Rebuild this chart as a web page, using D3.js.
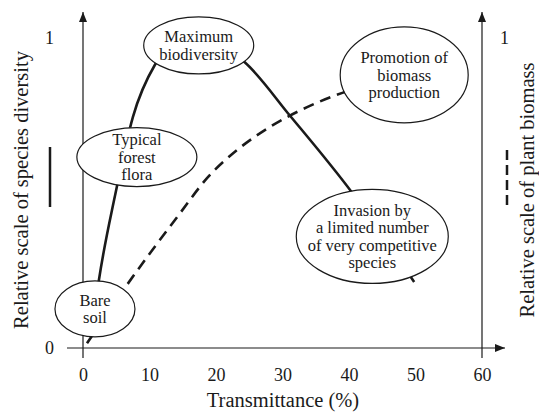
<!DOCTYPE html>
<html>
<head>
<meta charset="utf-8">
<script src="https://cdn.jsdelivr.net/npm/d3@7"></script>
<style>
  body { margin: 0; background: #fff; }
  svg { display: block; }
  text { font-family: "Liberation Serif", "Times New Roman", serif; fill: #1a1a1a; }
</style>
</head>
<body>
<div class="chart"></div>
<script>
// data
var transmittance = [1.6, 2.4, 4.8, 7.5, 10.8, 15, 20, 24.4, 31.1, 40.5, 49.8];
var diversity     = [0.1, 0.22, 0.49, 0.745, 0.913, 0.99, 0.985, 0.92, 0.75, 0.5, 0.213];
var transmittanceB = [0.6, 6.3, 14.6, 18.65, 23.2, 28.1, 33.7, 39, 48];
var biomass        = [0.015, 0.194, 0.435, 0.548, 0.639, 0.713, 0.777, 0.823, 0.87];
var xTicks = [0, 10, 20, 30, 40, 50, 60];
var yTicks = [0, 1];
var labels = [
  ["Maximum", "biodiversity"],
  ["Typical", "forest", "flora"],
  ["Bare", "soil"],
  ["Promotion of", "biomass", "production"],
  ["Invasion by", "a limited number", "of very competitive", "species"]
];
var labelX = [17.4, 8.1, 1.8, 48.3, 43.5];
var labelY = [0.976, 0.616, 0.126, 0.881, 0.36];

var width = 539, height = 413;
var ink = "#1a1a1a";
var radii = [[55, 28.5], [60, 29.5], [40, 28], [64, 48], [76, 47]];

var svg = d3.select("div.chart").append("svg")
  .attr("width", width).attr("height", height);

svg.append("defs").append("marker")
  .attr("id", "arrow")
  .attr("viewBox", "0 -4 10 8")
  .attr("refX", 10).attr("refY", 0)
  .attr("markerWidth", 10).attr("markerHeight", 8)
  .attr("markerUnits", "userSpaceOnUse")
  .attr("orient", "auto")
  .append("path").attr("d", "M0,-4L10,0L0,4Z").attr("fill", ink);

var x = d3.scaleLinear().domain([0, 60]).range([83, 482]);
var y = d3.scaleLinear().domain([0, 1]).range([348, 38]);

// axis lines with arrows
svg.append("line")
  .attr("x1", x(0) - 16).attr("x2", x(60) + 23)
  .attr("y1", y(0)).attr("y2", y(0))
  .attr("stroke", ink).attr("stroke-width", 1.2)
  .attr("marker-end", "url(#arrow)");
[0, 60].forEach(function(v) {
  svg.append("line")
    .attr("x1", x(v)).attr("x2", x(v))
    .attr("y1", y(0) + 10).attr("y2", y(1) - 26)
    .attr("stroke", ink).attr("stroke-width", 1.2)
    .attr("marker-end", "url(#arrow)");
});

// tick labels
var fmt = d3.format("d");
var gx = svg.append("g")
  .attr("transform", "translate(0," + y(0) + ")")
  .call(d3.axisBottom(x).tickValues(xTicks).tickFormat(fmt).tickSize(0).tickPadding(20));
var gl = svg.append("g")
  .attr("transform", "translate(" + x(0) + ",0)")
  .call(d3.axisLeft(y).tickValues(yTicks).tickFormat(fmt).tickSize(0).tickPadding(29));
var gr = svg.append("g")
  .attr("transform", "translate(" + x(60) + ",0)")
  .call(d3.axisRight(y).tickValues([1]).tickFormat(fmt).tickSize(0).tickPadding(18));
[gx, gl, gr].forEach(function(g) {
  g.select(".domain").remove();
  g.selectAll("text")
    .attr("font-size", "18px")
    .attr("fill", ink);
});

// axis titles
svg.append("text")
  .attr("x", 283).attr("y", 407)
  .attr("text-anchor", "middle").attr("font-size", "20.5px")
  .text("Transmittance (%)");
svg.append("text")
  .attr("transform", "translate(28,190) rotate(-90)")
  .attr("text-anchor", "middle").attr("font-size", "20.5px")
  .text("Relative scale of species diversity");
svg.append("text")
  .attr("transform", "translate(534,190) rotate(-90)")
  .attr("text-anchor", "middle").attr("font-size", "20.5px")
  .text("Relative scale of plant biomass");

// line-style keys next to the axes
svg.append("line")
  .attr("x1", 50).attr("x2", 50).attr("y1", 147).attr("y2", 207)
  .attr("stroke", ink).attr("stroke-width", 2.5);
svg.append("line")
  .attr("x1", 507).attr("x2", 507).attr("y1", 150).attr("y2", 207)
  .attr("stroke", ink).attr("stroke-width", 2.5)
  .attr("stroke-dasharray", "10,5");

// curves
var line = d3.line()
  .x(function(d) { return x(d[0]); })
  .y(function(d) { return y(d[1]); })
  .curve(d3.curveMonotoneX);

svg.append("path")
  .datum(d3.zip(transmittanceB, biomass))
  .attr("fill", "none").attr("stroke", ink)
  .attr("stroke-width", 2.6).attr("stroke-dasharray", "11,7")
  .attr("d", line);

svg.append("path")
  .datum(d3.zip(transmittance, diversity))
  .attr("fill", "none").attr("stroke", ink)
  .attr("stroke-width", 2.6)
  .attr("d", line);

// annotation ellipses
labels.forEach(function(lines, i) {
  var cx = x(labelX[i]), cy = y(labelY[i]);
  var g = svg.append("g");
  g.append("ellipse")
    .attr("cx", cx).attr("cy", cy)
    .attr("rx", radii[i][0]).attr("ry", radii[i][1])
    .attr("fill", "#fff").attr("stroke", ink).attr("stroke-width", 1.2);
  var lh = 17.5;
  lines.forEach(function(t, j) {
    g.append("text")
      .attr("x", cx)
      .attr("y", cy + (j - (lines.length - 1) / 2) * lh)
      .attr("dy", "0.35em")
      .attr("text-anchor", "middle")
      .attr("font-size", "16.5px")
      .text(t);
  });
});
</script>
</body>
</html>
